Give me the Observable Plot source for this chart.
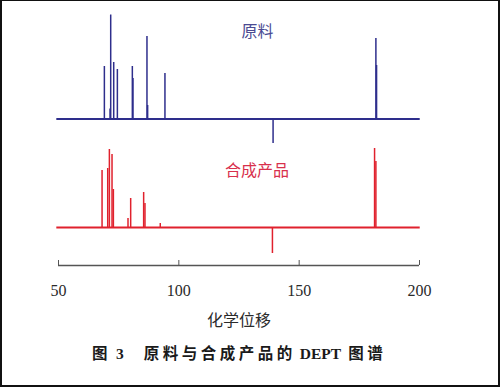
<!DOCTYPE html>
<html>
<head>
<meta charset="utf-8">
<script src="https://cdn.jsdelivr.net/npm/d3@7"></script>
<script src="https://cdn.jsdelivr.net/npm/@observablehq/plot@0.6"></script>
<style>
  html, body { margin: 0; padding: 0; background: #fff; }
  #wrap { position: relative; width: 500px; height: 387px; overflow: hidden; background: #fff; }
  #chart { position: absolute; left: 0; top: 0; }
  #caption {
    position: absolute; left: 92px; top: 341px; white-space: nowrap;
    font-family: "Liberation Serif", "Noto Sans CJK SC", serif; font-weight: bold;
    font-size: 15.5px; color: #1a1a1a;
  }
  #caption .cjk { letter-spacing: 3.5px; }
  #caption .lat { letter-spacing: 0; }
  #caption .gap { display: inline-block; }
  #frame { position: absolute; left: 0; top: 0; width: 500px; height: 387px; box-sizing: border-box;
    border: 2px solid #111; border-top-width: 1px; pointer-events: none; }
</style>
</head>
<body>
<div id="wrap">
  <div id="chart"></div>
  <div id="caption"><span class="cjk">图</span><span class="gap" style="width:5px"></span><span class="lat">3</span><span class="gap" style="width:20px"></span><span class="cjk">原料与合成产品的</span><span class="gap" style="width:4px"></span><span class="lat">DEPT</span><span class="gap" style="width:7px"></span><span class="cjk">图谱</span></div>
  <div id="frame"></div>
</div>
<script>
// x-axis ticks (chemical shift, ppm)
const ppmTicks = [50, 100, 150, 200];
const xLabel = "化学位移";
const seriesNames = ["原料", "合成产品"];

// Raw material (原料) peaks: chemical shift and relative intensity
const rawShift     = [69.06, 71.42, 71.69, 72.94, 74.46, 80.68, 80.95, 86.76, 87.04, 94.23, 139.16, 181.88, 182.16];
const rawIntensity = [52.5,  10,    104,   56.5,  49.5,  52.5,  40.5,  82.5,  13.5,  45.5,  -24.5,  80.5,   53.5];

// Synthesized product (合成产品) peaks
const prodShift     = [68.10, 70.45, 71.14, 72.24, 72.80, 78.88, 79.99, 85.38, 85.93, 92.29, 138.89, 181.33, 181.88];
const prodIntensity = [57,    59,    78,    73,    38,    9,     29,    35,    24,    4,     -26,    79,     66];

// spectrum range (ppm)
const spectrumRange = [49.3, 200.3];

// layout constants (vertical stacking offsets of the two traces)
const RAW_BASE = 146.5, PROD_BASE = 38;
const BLUE = "#2e2e8c", RED = "#e0212d";

const rawPeaks = rawShift.map((x, i) => ({x, base: RAW_BASE, top: RAW_BASE + rawIntensity[i]}));
const prodPeaks = prodShift.map((x, i) => ({x, base: PROD_BASE, top: PROD_BASE + prodIntensity[i]}));
const baselines = [
  {x1: spectrumRange[0], x2: spectrumRange[1], y: RAW_BASE, c: BLUE},
  {x1: spectrumRange[0], x2: spectrumRange[1], y: PROD_BASE, c: RED}
];
const labels = [
  {name: seriesNames[0], x: 132.7, y: RAW_BASE + 87.5, c: "#4a4a92"},
  {name: seriesNames[1], x: 132.5, y: PROD_BASE + 56.5, c: "#d8304c"}
];

const plot = Plot.plot({
  width: 500,
  height: 335,
  marginLeft: 58,
  marginRight: 81,
  marginTop: 0,
  marginBottom: 70,
  x: {domain: [50, 200]},
  y: {domain: [0, 265], axis: null},
  style: {fontFamily: "'Liberation Serif', 'Noto Sans CJK SC', serif", background: "transparent"},
  marks: [
    Plot.ruleY([0], {stroke: "#555", strokeWidth: 1.3}),
    Plot.axisX(ppmTicks, {
      tickSize: -5, tickPadding: 24, fontSize: 16, stroke: "#555", color: "#2a2a2a",
      label: xLabel, labelAnchor: "center", labelArrow: "none", labelOffset: 60
    }),
    Plot.ruleY(baselines, {x1: "x1", x2: "x2", y: "y", stroke: "c", strokeWidth: 2}),
    Plot.ruleX(rawPeaks, {x: "x", y1: "base", y2: "top", stroke: BLUE, strokeWidth: 1.5}),
    Plot.ruleX(prodPeaks, {x: "x", y1: "base", y2: "top", stroke: RED, strokeWidth: 1.5}),
    Plot.text(labels, {x: "x", y: "y", text: "name", fill: "c", fontSize: 16,
      fontFamily: "'Noto Sans CJK SC', sans-serif"})
  ]
});
document.getElementById("chart").appendChild(plot);
</script>
</body>
</html>
